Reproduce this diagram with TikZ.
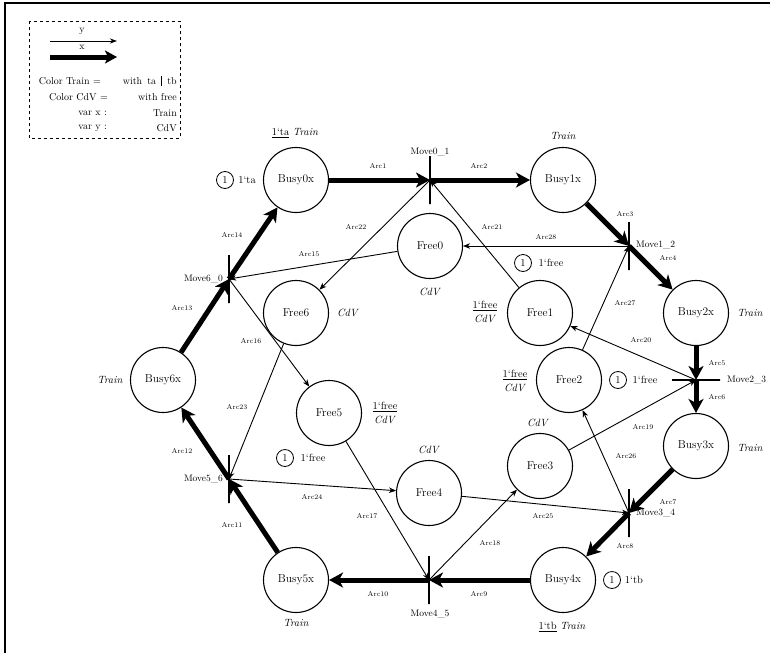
\documentclass[tikz,border=0pt]{standalone}
\usepackage{fontspec}
\usetikzlibrary{arrows.meta}

\newcommand{\plfont}{\fontsize{11.5}{13}\selectfont\addfontfeatures{LetterSpace=8}}
\newcommand{\arcfont}{\fontsize{7}{8}\selectfont\addfontfeatures{LetterSpace=22}}
\newcommand{\trfont}{\fontsize{9.5}{11}\selectfont\addfontfeatures{LetterSpace=14}}
\newcommand{\tkfont}{\fontsize{10.5}{12}\selectfont\addfontfeatures{LetterSpace=8}}
\newcommand{\lgfont}{\fontsize{10}{11}\selectfont\addfontfeatures{LetterSpace=10}}

\begin{document}
\begin{tikzpicture}[x = 1pt, y = -1pt,
    place/.style = {draw, shape = circle, line width = 1.1pt, minimum size = 65pt, inner sep = 0pt, font = \plfont},
    trans/.style = {draw, shape = rectangle, line width = 1.1pt, inner sep = 0pt, minimum width = 0pt, minimum height = 48pt},
    htrans/.style = {draw, shape = rectangle, line width = 1.1pt, inner sep = 0pt, minimum width = 48pt, minimum height = 0pt},
    xarc/.style = {line width = 5pt, -{Stealth[length = 14pt, width = 15pt, inset = 4pt]}},
    yarc/.style = {line width = 0.9pt, -{Stealth[length = 7pt, width = 5.5pt, inset = 2pt]}},
    lbl/.style = {font = \arcfont, inner sep = 0pt},
    tlbl/.style = {font = \trfont, inner sep = 0pt},
    tok/.style = {draw, shape = circle, line width = 0.8pt, inner sep = 0pt, minimum size = 17pt, font = \tkfont},
    txt/.style = {font = \tkfont, inner sep = 0pt, align = center},
    lgd/.style = {font = \lgfont, inner sep = 0pt, anchor = east}]
    \useasboundingbox (0,0) rectangle (770,653);
    \draw [line width = 1.5pt] (5,653) -- (5,3) -- (770,3);

    % legend
    \draw [dashed, line width = 0.6pt] (29,21) rectangle (180,138);
    \coordinate (ya) at (50,41);
    \coordinate (yb) at (117,41);
    \coordinate (xa) at (50,57);
    \coordinate (xb) at (117,57);
    \draw [line width = 0.9pt, -{Stealth[length = 7pt, width = 5pt, inset = 2pt]}] (ya) to (yb);
    \draw [line width = 5pt, -{Stealth[length = 12pt, width = 13pt, inset = 3pt]}] (xa) to (xb);
    \node [font = \lgfont, inner sep = 0pt] (Y) at (82,31) {y};
    \node [font = \lgfont, inner sep = 0pt] (X) at (82,47) {x};
    \node [lgd] (L1) at (101,81) {Color Train =};
    \node [lgd] (R1) at (177,81) {with\hspace{5pt}ta\hspace{5pt}\rule[-2pt]{1.2pt}{10pt}\hspace{5pt}tb};
    \node [lgd] (L2) at (108,97) {Color CdV =};
    \node [lgd] (R2) at (177,97) {with free};
    \node [lgd] (L3) at (107,113) {var x :};
    \node [lgd] (R3) at (177,113) {Train};
    \node [lgd] (L4) at (107,128) {var y :};
    \node [lgd] (R4) at (177,128) {CdV};

    % places
    \node [place] (b0) at (296,180) {Busy0x};
    \node [place] (b1) at (563,180) {Busy1x};
    \node [place] (b2) at (696,313) {Busy2x};
    \node [place] (b3) at (696,446) {Busy3x};
    \node [place] (b4) at (563,580) {Busy4x};
    \node [place] (b5) at (296,580) {Busy5x};
    \node [place] (b6) at (163,380) {Busy6x};
    \node [place] (f0) at (430,246) {Free0};
    \node [place] (f1) at (540,313) {Free1};
    \node [place] (f2) at (569,380) {Free2};
    \node [place] (f3) at (540,466) {Free3};
    \node [place] (f4) at (429,493) {Free4};
    \node [place] (f5) at (329,413) {Free5};
    \node [place] (f6) at (296,313) {Free6};

    % transitions
    \node [trans] (t01) at (430,180) {};
    \node [trans] (t12) at (629,246) {};
    \node [htrans] (t23) at (696,380) {};
    \node [trans] (t34) at (629,513) {};
    \node [trans] (t45) at (429,580) {};
    \node [trans] (t56) at (229,479) {};
    \node [trans] (t60) at (229,279) {};
    \node [tlbl] (T01) at (430,152) {Move0\_1};
    \node [tlbl, anchor = west] (T12) at (636,245) {Move1\_2};
    \node [tlbl, anchor = west] (T23) at (727,380) {Move2\_3};
    \node [tlbl, anchor = west] (T34) at (636,513) {Move3\_4};
    \node [tlbl] (T45) at (430,614) {Move4\_5};
    \node [tlbl, anchor = east] (T56) at (223,479) {Move5\_6};
    \node [tlbl, anchor = east] (T60) at (223,279) {Move6\_0};

    % train arcs
    \draw [xarc] (b0) to (t01.center);
    \draw [xarc] (t01.center) to (b1);
    \draw [xarc] (b1) to (t12.center);
    \draw [xarc] (t12.center) to (b2);
    \draw [xarc] (b2) to (t23.center);
    \draw [xarc] (t23.center) to (b3);
    \draw [xarc] (b3) to (t34.center);
    \draw [xarc] (t34.center) to (b4);
    \draw [xarc] (b4) to (t45.center);
    \draw [xarc] (t45.center) to (b5);
    \draw [xarc] (b5) to (t56.center);
    \draw [xarc] (t56.center) to (b6);
    \draw [xarc] (b6) to (t60.center);
    \draw [xarc] (t60.center) to (b0);

    % cdv arcs
    \draw [yarc] (f0) to (t60.center);
    \draw [yarc] (t60.center) to (f5);
    \draw [yarc] (f5) to (t45.center);
    \draw [yarc] (t45.center) to (f3);
    \draw [yarc] (f3) to (t23.center);
    \draw [yarc] (t23.center) to (f1);
    \draw [yarc] (f1) to (t01.center);
    \draw [yarc] (t01.center) to (f6);
    \draw [yarc] (f6) to (t56.center);
    \draw [yarc] (t56.center) to (f4);
    \draw [yarc] (f4) to (t34.center);
    \draw [yarc] (t34.center) to (f2);
    \draw [yarc] (f2) to (t12.center);
    \draw [yarc] (t12.center) to (f0);

    % arc labels
    \node [lbl] (A1) at (378,166) {Arc1};
    \node [lbl] (A2) at (479,166) {Arc2};
    \node [lbl] (A3) at (625,214) {Arc3};
    \node [lbl] (A4) at (668,258) {Arc4};
    \node [lbl] (A5) at (717,363) {Arc5};
    \node [lbl] (A6) at (717,397) {Arc6};
    \node [lbl] (A7) at (668,502) {Arc7};
    \node [lbl] (A8) at (625,546) {Arc8};
    \node [lbl] (A9) at (479,594) {Arc9};
    \node [lbl] (A10) at (378,594) {Arc10};
    \node [lbl] (A11) at (232,525) {Arc11};
    \node [lbl] (A12) at (182,451) {Arc12};
    \node [lbl] (A13) at (182,308) {Arc13};
    \node [lbl] (A14) at (232,235) {Arc14};
    \node [lbl] (A15) at (309,254) {Arc15};
    \node [lbl] (A16) at (251,341) {Arc16};
    \node [lbl] (A17) at (367,516) {Arc17};
    \node [lbl] (A18) at (490,543) {Arc18};
    \node [lbl] (A19) at (643,427) {Arc19};
    \node [lbl] (A20) at (641,340) {Arc20};
    \node [lbl] (A21) at (492,227) {Arc21};
    \node [lbl] (A22) at (356,227) {Arc22};
    \node [lbl] (A23) at (237,407) {Arc23};
    \node [lbl] (A24) at (312,497) {Arc24};
    \node [lbl] (A25) at (543,516) {Arc25};
    \node [lbl] (A26) at (626,456) {Arc26};
    \node [lbl] (A27) at (625,303) {Arc27};
    \node [lbl] (A28) at (546,237) {Arc28};

    % inscriptions and markings
    \node [txt] (B0) at (295,133) {\underline{1`ta}\ \textit{Train}};
    \node [tok] (K0) at (225,180) {1};
    \node [txt] (N0) at (247,180) {1`ta};
    \node [txt] (B1) at (563,136) {\textit{Train}};
    \node [txt] (B2) at (750,313) {\textit{Train}};
    \node [txt] (B3) at (750,448) {\textit{Train}};
    \node [txt] (B4) at (562,627) {\underline{1`tb}\ \textit{Train}};
    \node [tok] (K4) at (612,580) {1};
    \node [txt] (N4) at (634,580) {1`tb};
    \node [txt] (B5) at (296,623) {\textit{Train}};
    \node [txt] (B6) at (110,380) {\textit{Train}};
    \node [txt] (F0) at (430,292) {\textit{CdV}};
    \node [txt] (F1) at (485,312) {\underline{1`free}\\[2pt]\textit{CdV}};
    \node [tok] (K1) at (523,263) {1};
    \node [txt] (N1) at (551,263) {1`free};
    \node [txt] (F2) at (515,381) {\underline{1`free}\\[2pt]\textit{CdV}};
    \node [tok] (K2) at (618,380) {1};
    \node [txt] (N2) at (645,380) {1`free};
    \node [txt] (F3) at (538,423) {\textit{CdV}};
    \node [txt] (F4) at (429,450) {\textit{CdV}};
    \node [txt] (F5) at (385,413) {\underline{1`free}\\[2pt]\textit{CdV}};
    \node [tok] (K5) at (285,458) {1};
    \node [txt] (N5) at (313,458) {1`free};
    \node [txt] (F6) at (348,313) {\textit{CdV}};
\end{tikzpicture}
\end{document}
